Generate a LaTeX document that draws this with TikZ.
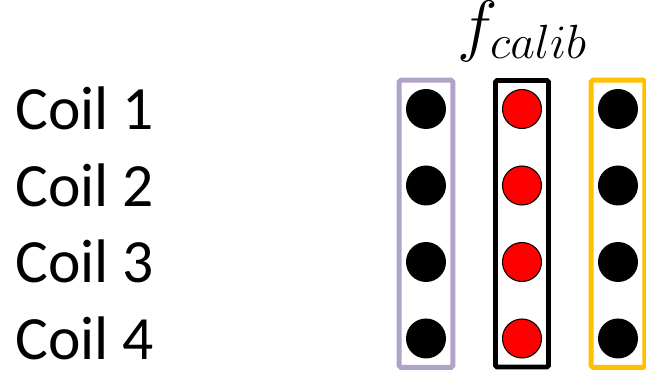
\documentclass[tikz,border=0pt]{standalone}
\usepackage{fix-cm}
\usepackage{fontspec}
\setmainfont{Carlito}
\usepackage{tikz}
\usetikzlibrary{positioning,fit}

\definecolor{coilpurple}{HTML}{B1A2CA}
\definecolor{coilyellow}{HTML}{FFC000}

\begin{document}
\begin{tikzpicture}[node distance=1.53cm,on grid,
		dot/.style={circle,fill=black,minimum size=0.8cm,inner sep=0pt},
		reddot/.style={dot,fill=red,draw=black,line width=0.6pt,minimum size=0.78cm},
		coilbox/.style={rectangle,draw,line width=2.8pt,rounded corners=1pt,inner xsep=0.13cm,inner ysep=0.17cm},
		coillabel/.style={anchor=base west,inner sep=0pt,font=\fontsize{35}{42}\selectfont}]
		\useasboundingbox (0,0) rectangle (12.92,-7.42);
		\coordinate (lab) at (0.3,0);

		\node[dot]		(a_1)	at (8.52,-2.18)			{};
		\node[dot]		(a_2)	[below=of a_1]			{};
		\node[dot]		(a_3)	[below=of a_2]			{};
		\node[dot]		(a_4)	[below=of a_3]			{};

		\node[reddot]	(c_1)	[right=1.92cm of a_1]	{};
		\node[reddot]	(c_2)	[below=of c_1]			{};
		\node[reddot]	(c_3)	[below=of c_2]			{};
		\node[reddot]	(c_4)	[below=of c_3]			{};

		\node[dot]		(b_1)	[right=1.92cm of c_1]	{};
		\node[dot]		(b_2)	[below=of b_1]			{};
		\node[dot]		(b_3)	[below=of b_2]			{};
		\node[dot]		(b_4)	[below=of b_3]			{};

		\node[coilbox,draw=coilpurple]	(abox)	[fit=(a_1)(a_4)]	{};
		\node[coilbox,draw=black]		(cbox)	[fit=(c_1)(c_4)]	{};
		\node[coilbox,draw=coilyellow]	(bbox)	[fit=(b_1)(b_4)]	{};

		\node[inner sep=0pt,font=\fontsize{39}{46}\selectfont]	(fcal)	[above=0.6cm of cbox.north,anchor=base]	{$f_{calib}$};

		\node[coillabel]	(l_1)	at ([yshift=-0.42cm]lab |- a_1)	{Coil 1};
		\node[coillabel]	(l_2)	at ([yshift=-0.42cm]lab |- a_2)	{Coil 2};
		\node[coillabel]	(l_3)	at ([yshift=-0.42cm]lab |- a_3)	{Coil 3};
		\node[coillabel]	(l_4)	at ([yshift=-0.42cm]lab |- a_4)	{Coil 4};
	\end{tikzpicture}
\end{document}
